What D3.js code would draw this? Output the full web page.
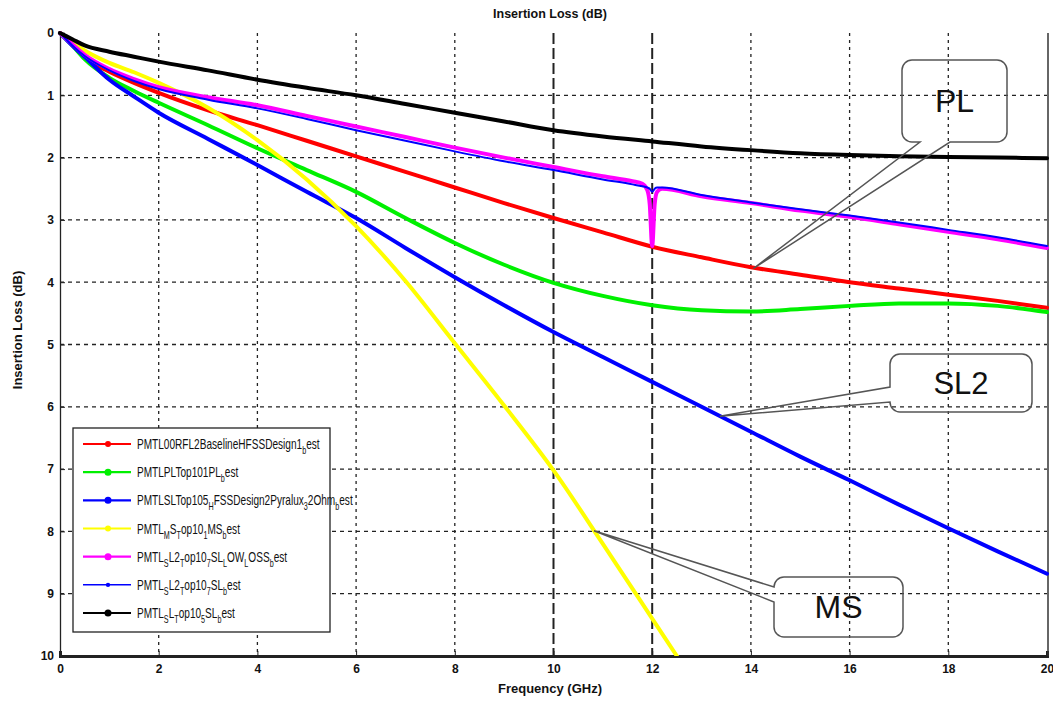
<!DOCTYPE html>
<html><head><meta charset="utf-8">
<script src="https://cdn.jsdelivr.net/npm/d3@7"></script>
<style>body{margin:0;background:#fff}svg{display:block}</style>
</head><body>
<svg id="c" width="1053" height="702"></svg>
<script>
// ---------- data (frequency in GHz, insertion loss in dB) ----------
const freqs = [0,0.25,0.5,1,1.5,2,3,4,5,6,7,8,9,10,11,12,13,14,15,16,17,18,19,20];
const redVals   = [0,0.18,0.4,0.62,0.8,0.96,1.24,1.48,1.73,1.98,2.23,2.48,2.73,2.97,3.2,3.43,3.6,3.76,3.88,4.0,4.1,4.2,4.3,4.41];
const greenVals = [0,0.2,0.42,0.72,0.93,1.12,1.48,1.85,2.2,2.55,2.97,3.37,3.72,4.01,4.22,4.37,4.45,4.47,4.43,4.38,4.34,4.34,4.38,4.48];
const blueVals  = [0,0.2,0.38,0.75,1.02,1.28,1.7,2.12,2.55,2.97,3.45,3.92,4.37,4.8,5.2,5.6,6.0,6.4,6.8,7.18,7.57,7.95,8.32,8.68];
const blackVals = [0,0.1,0.2,0.3,0.38,0.46,0.6,0.75,0.88,1.0,1.14,1.28,1.42,1.56,1.66,1.74,1.82,1.88,1.93,1.96,1.98,1.99,2.0,2.01];

const yellowFreqs = [0,0.25,0.5,1,1.5,2,3,4,5,6,7,8,9,10,11,12,12.5];
const yellowVals  = [0,0.15,0.28,0.48,0.63,0.8,1.2,1.72,2.35,3.1,3.98,4.98,5.98,7.02,8.2,9.4,10.0];

const slFreqs = [0,0.25,0.5,1,1.5,2,3,4,5,6,7,8,9,10,11,11.6,11.8,11.9,11.95,12,12.05,12.1,12.2,13,14,15,16,17,18,19,20];
const magentaVals  = [0,0.18,0.35,0.58,0.74,0.87,1.03,1.16,1.33,1.5,1.67,1.84,2.0,2.15,2.3,2.38,2.42,2.52,2.75,3.42,2.75,2.55,2.5,2.62,2.73,2.85,2.95,3.07,3.19,3.31,3.45];
const blueThinVals = [0,0.2,0.37,0.6,0.77,0.9,1.07,1.21,1.38,1.56,1.73,1.9,2.06,2.2,2.35,2.43,2.46,2.48,2.5,2.55,2.5,2.48,2.48,2.6,2.72,2.83,2.93,3.04,3.16,3.28,3.42];

const legendLabels = [
  "PMTL00RFL2BaselineHFSSDesign1_{b}est",
  "PMTLPLTop101PL_{b}est",
  "PMTLSLTop105_{H}FSSDesign2Pyralux_{3}2Ohm_{b}est",
  "PMTL_{M}S_{T}op10_{1}MS_{b}est",
  "PMTL_{S}L2_{T}op10_{7}SL_{L}OW_{L}OSS_{b}est",
  "PMTL_{S}L2_{T}op10_{7}SL_{b}est",
  "PMTL_{S}L_{T}op10_{5}SL_{b}est"
];
const xTicks = [0,2,4,6,8,10,12,14,16,18,20];
const yTicks = [0,1,2,3,4,5,6,7,8,9,10];
const calloutLabels = ["PL","SL2","MS"];
// callout tips in data coords: [freq, loss]
const calloutTips = [[14.05,3.78],[13.37,6.15],[10.82,7.99]];

// ---------- layout ----------
const svg = d3.select("#c");
const L = 60, R = 1047, T = 33, B = 656;
const x = d3.scaleLinear().domain([0,20]).range([L,R]);
const y = d3.scaleLinear().domain([0,10]).range([T,B]);
const FONT = "'Liberation Sans', Arial, sans-serif";

// grid
const g = svg.append("g");
g.selectAll("line.h").data(yTicks.filter(d=>d>0&&d<10)).join("line")
  .attr("x1",L).attr("x2",R).attr("y1",d=>y(d)).attr("y2",d=>y(d))
  .attr("stroke","#222").attr("stroke-width",1.3).attr("stroke-dasharray","4,4");
g.selectAll("line.v").data(xTicks.filter(d=>d>0&&d<20)).join("line")
  .attr("y1",T).attr("y2",B).attr("x1",d=>x(d)).attr("x2",d=>x(d))
  .attr("stroke","#222")
  .attr("stroke-width",d=>(d===10||d===12)?2:1.3)
  .attr("stroke-dasharray",d=>(d===10||d===12)?"11,4":"3,4");

// axes
const xAxis = d3.axisBottom(x).tickValues(xTicks).tickSize(-5).tickPadding(8).tickFormat(d3.format("d"));
const yAxis = d3.axisLeft(y).tickValues(yTicks).tickSize(-5).tickPadding(6).tickFormat(d3.format("d"));
const gx = svg.append("g").attr("transform",`translate(0,${B})`).call(xAxis);
const gy = svg.append("g").attr("transform",`translate(${L},0)`).call(yAxis);
[gx,gy].forEach(a=>{
  a.selectAll("text").attr("font-family",FONT).attr("font-weight","bold").attr("font-size",12).attr("fill","#111");
  a.selectAll("line").attr("stroke","#222");
});
gx.select(".domain").attr("stroke","#222").attr("stroke-width",3);
gy.select(".domain").attr("stroke","#222").attr("stroke-width",1.3);
svg.append("line").attr("x1",R+1).attr("x2",R+1).attr("y1",T).attr("y2",B).attr("stroke","#333").attr("stroke-width",1.5);

// titles
svg.append("text").attr("x",550).attr("y",18).attr("text-anchor","middle")
  .attr("font-family",FONT).attr("font-weight","bold").attr("font-size",12.5).attr("fill","#111").text("Insertion Loss (dB)");
svg.append("text").attr("x",550).attr("y",693).attr("text-anchor","middle")
  .attr("font-family",FONT).attr("font-weight","bold").attr("font-size",13).attr("fill","#111").text("Frequency (GHz)");
svg.append("text").attr("transform","translate(22,330) rotate(-90)").attr("text-anchor","middle")
  .attr("font-family",FONT).attr("font-weight","bold").attr("font-size",13).attr("fill","#111").text("Insertion Loss (dB)");

// series
const series = [
  {f:freqs, v:redVals, c:"#ff0000", w:4, r:3},
  {f:freqs, v:greenVals, c:"#00f000", w:4, r:3.5},
  {f:freqs, v:blueVals, c:"#0000ff", w:4, r:3.5},
  {f:yellowFreqs, v:yellowVals, c:"#ffff00", w:4, r:3},
  {f:slFreqs, v:magentaVals, c:"#ff00ff", w:4, r:3.5},
  {f:slFreqs, v:blueThinVals, c:"#0000ff", w:2, r:2.2},
  {f:freqs, v:blackVals, c:"#000000", w:4, r:3.5}
];
svg.append("clipPath").attr("id","clip").append("rect").attr("x",L-4).attr("y",T-4).attr("width",R-L+6).attr("height",B-T+4);
const line = d3.line().x(d=>x(d[0])).y(d=>y(d[1])).curve(d3.curveMonotoneX);
const pg = svg.append("g").attr("clip-path","url(#clip)");
series.forEach(s=>{
  pg.append("path").datum(s.f.map((f,i)=>[f,s.v[i]]))
    .attr("d",line).attr("fill","none").attr("stroke",s.c).attr("stroke-width",s.w)
    .attr("stroke-linejoin","round").attr("stroke-linecap","round");
});

// callouts
const boxes = [
  {x0:902,y0:60,x1:1007,y1:142, side:"bottom", a:950, b:920, fs:32},
  {x0:890,y0:354,x1:1032,y1:412, side:"left", a:387, b:402, fs:31},
  {x0:774,y0:577,x1:903,y1:637, side:"left", a:587, b:602, fs:32}
];
const rr = 10;
boxes.forEach((bx,i)=>{
  const tx = x(calloutTips[i][0]), ty = y(calloutTips[i][1]);
  let p = d3.path();
  if (bx.side==="bottom"){
    p.moveTo(bx.x0+rr,bx.y0); p.lineTo(bx.x1-rr,bx.y0); p.arcTo(bx.x1,bx.y0,bx.x1,bx.y0+rr,rr);
    p.lineTo(bx.x1,bx.y1-rr); p.arcTo(bx.x1,bx.y1,bx.x1-rr,bx.y1,rr);
    p.lineTo(bx.a,bx.y1); p.lineTo(tx,ty); p.lineTo(bx.b,bx.y1);
    p.lineTo(bx.x0+rr,bx.y1); p.arcTo(bx.x0,bx.y1,bx.x0,bx.y1-rr,rr);
    p.lineTo(bx.x0,bx.y0+rr); p.arcTo(bx.x0,bx.y0,bx.x0+rr,bx.y0,rr); p.closePath();
  } else {
    p.moveTo(bx.x0+rr,bx.y0); p.lineTo(bx.x1-rr,bx.y0); p.arcTo(bx.x1,bx.y0,bx.x1,bx.y0+rr,rr);
    p.lineTo(bx.x1,bx.y1-rr); p.arcTo(bx.x1,bx.y1,bx.x1-rr,bx.y1,rr);
    p.lineTo(bx.x0+rr,bx.y1); p.arcTo(bx.x0,bx.y1,bx.x0,bx.y1-rr,rr);
    p.lineTo(bx.x0,bx.b); p.lineTo(tx,ty); p.lineTo(bx.x0,bx.a);
    p.lineTo(bx.x0,bx.y0+rr); p.arcTo(bx.x0,bx.y0,bx.x0+rr,bx.y0,rr); p.closePath();
  }
  svg.append("path").attr("d",p.toString()).attr("fill","none").attr("stroke","#555").attr("stroke-width",1.5);
  svg.append("text").attr("x",(bx.x0+bx.x1)/2).attr("y",(bx.y0+bx.y1)/2+11).attr("text-anchor","middle")
    .attr("font-family",FONT).attr("font-size",bx.fs).attr("fill","#111").text(calloutLabels[i]);
});

// legend
const lg = svg.append("g");
lg.append("rect").attr("x",73).attr("y",428).attr("width",257).attr("height",204)
  .attr("fill","#fff").attr("stroke","#222").attr("stroke-width",1.3);
const ly = d3.scalePoint().domain(d3.range(legendLabels.length)).range([444,613]);
legendLabels.forEach((lab,i)=>{
  const s = series[i], yy = ly(i);
  lg.append("line").attr("x1",83).attr("x2",131).attr("y1",yy).attr("y2",yy).attr("stroke",s.c).attr("stroke-width",s.w===2?1.5:2.2);
  lg.append("circle").attr("cx",108).attr("cy",yy).attr("r",s.r).attr("fill",s.c);
  const t = lg.append("text").attr("transform",`translate(137,${yy+5}) scale(0.72,1)`)
    .attr("font-family",FONT).attr("font-size",14).attr("fill","#111");
  const parts = lab.split(/(_\{[^}]*\})/).filter(p=>p.length);
  let sub = false;
  parts.forEach(p=>{
    if (p.startsWith("_{")){
      t.append("tspan").attr("dy",sub?0:5).attr("font-size",10).text(p.slice(2,-1));
      sub = true;
    } else {
      t.append("tspan").attr("dy",sub?-5:0).text(p);
      sub = false;
    }
  });
});
</script>
</body></html>
